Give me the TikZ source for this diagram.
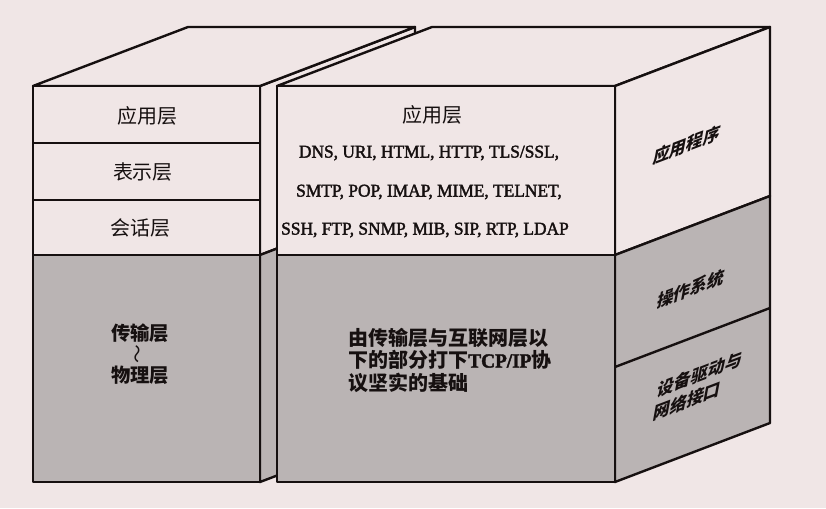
\documentclass[tikz,border=0pt]{standalone}
\usepackage{fontspec}
\newfontfamily\cjk{Noto Sans CJK SC}
\newfontfamily\latin{Liberation Serif}[FakeBold=2,FakeStretch=0.965]
\definecolor{bg}{RGB}{240,230,230}
\definecolor{shade}{RGB}{186,180,180}
\definecolor{ink}{RGB}{22,16,16}
\begin{document}
\begin{tikzpicture}[x=0.75pt,y=-0.75pt,
  face/.style={draw=ink, line width=1.8pt, line join=round},
  lab/.style={inner sep=0pt, text=ink, font=\cjk\fontsize{15}{18}\selectfont},
  labb/.style={inner sep=0pt, text=ink, font=\cjk\bfseries\fontsize{14.5}{17}\selectfont},
  proto/.style={inner sep=0pt, text=ink, font=\latin\fontsize{13.5}{16}\selectfont},
  side/.style={inner sep=0pt, text=ink, font=\cjk\bfseries\fontsize{12.6}{16.5}\selectfont,
    yslant=0.38, xslant=0.2, transform shape}]
\fill[bg] (0,0) rectangle (826,508);
\useasboundingbox (0,0) rectangle (826,508);

% ---- left box (OSI) ----
\filldraw[face, fill=bg] (260,86) -- (415,27) -- (415,196) -- (260,255) -- cycle;
\filldraw[face, fill=shade] (260,255) -- (415,196) -- (415,423) -- (260,482) -- cycle;
\filldraw[face, fill=bg] (33,86) -- (188,27) -- (415,27) -- (260,86) -- cycle;
\filldraw[face, fill=bg] (33,86) rectangle (260,255);
\draw[face] (33,143) -- (260,143);
\draw[face] (33,200) -- (260,200);
\filldraw[face, fill=shade] (33,255) rectangle (260,482);

% ---- right box (TCP/IP) ----
\filldraw[face, fill=bg] (277,86) -- (432,27) -- (770,27) -- (615,86) -- cycle;
\filldraw[face, fill=bg] (615,86) -- (770,27) -- (770,196) -- (615,255) -- cycle;
\filldraw[face, fill=shade] (615,255) -- (770,196) -- (770,423) -- (615,482) -- cycle;
\draw[face] (615,367) -- (770,308);
\filldraw[face, fill=bg] (277,86) rectangle (615,255);
\filldraw[face, fill=shade] (277,255) rectangle (615,482);

% ---- left labels ----
\node[lab] (osi7) at (147,116) {应用层};
\node[lab] (osi6) at (143,172) {表示层};
\node[lab] (osi5) at (140,228) {会话层};
\node[labb] (osi4) at (140,333) {传输层};
\node[inner sep=0pt, text=ink, rotate=90, font=\cjk\fontsize{14}{14}\selectfont] (tilde) at (140,354) {～};
\node[labb] (osi1) at (140,375) {物理层};

% ---- right front labels ----
\node[lab] (app) at (432,115) {应用层};
\node[proto] (p1) at (429,153) {DNS, URI, HTML, HTTP, TLS/SSL,};
\node[proto] (p2) at (429,192) {SMTP, POP, IMAP, MIME, TELNET,};
\node[proto] (p3) at (425,230) {SSH, FTP, SNMP, MIB, SIP, RTP, LDAP};
\node[inner sep=0pt, anchor=west, align=left, text=ink,
      font=\cjk\bfseries\fontsize{15}{16.9}\selectfont] (base) at (348,360)
  {由传输层与互联网层以\\下的部分打下{\latin TCP/IP}协\\议坚实的基础};

% ---- right side labels ----
\node[side] (prog) at (687,145) {应用程序};
\node[side] (os) at (691,289) {操作系统};
\node[side, align=left] (drv) at (698,386) {设备驱动与\\网络接口};
\end{tikzpicture}
\end{document}
